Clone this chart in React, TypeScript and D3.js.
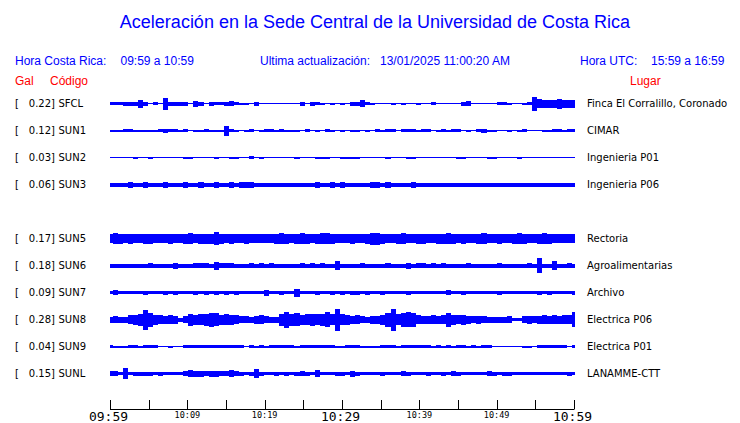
import React from "react";
import * as d3 from "d3";

const W = 740;
const H = 423;

const titleText = "Aceleración en la Sede Central de la Universidad de Costa Rica";
const stationCodes = ["SFCL", "SUN1", "SUN2", "SUN3", "SUN5", "SUN6", "SUN7", "SUN8", "SUN9", "SUNL"];
const stationSlots = [0, 1, 2, 3, 5, 6, 7, 8, 9, 10];
const peakGal = [0.22, 0.12, 0.03, 0.06, 0.17, 0.18, 0.09, 0.28, 0.04, 0.15];
const places = [
  "Finca El Corralillo, Coronado",
  "CIMAR",
  "Ingenieria P01",
  "Ingenieria P06",
  "Rectoria",
  "Agroalimentarias",
  "Archivo",
  "Electrica P06",
  "Electrica P01",
  "LANAMME-CTT",
];

const tickMinutes = [0, 5, 10, 15, 20, 25, 30, 35, 40, 45, 50, 55, 60];
const labelMinutes = [0, 10, 20, 30, 40, 50, 60];
const labelTexts = ["09:59", "10:09", "10:19", "10:29", "10:39", "10:49", "10:59"];
const labelBig = [true, false, false, true, false, false, true];

// envelope amplitude (peak-to-peak counts) sampled along the hour
const envSFCL = [3,3,3,4,4,4,8,4,1,3, 1,12,4,4,4,4,1,6,4,1, 4,3,3,4,5,3,2,2,1,4, 1,1,1,1,1,1,1,1,4,1, 4,3,2,1,2,1,2,1,4,4, 7,3,2,1,1,1,2,1,2,1, 1,2,1,1,3,1,1,1,1,1, 4,5,1,1,1,1,1,3,3,2, 1,1,2,3,14,9,8,8,8,10, 8,8,8];
const envSUN1 = [2,2,2,3,3,2,2,2,2,2, 3,4,3,3,2,3,1,2,2,3, 2,2,2,10,3,2,1,2,3,1, 2,3,3,2,3,2,2,2,1,3, 1,2,1,3,2,1,2,1,2,2, 1,2,1,3,2,3,3,1,3,3, 3,2,3,3,1,2,3,2,3,3, 1,2,1,3,4,2,2,1,1,2, 1,2,3,1,1,1,2,2,3,3, 2,3,3];
const envSUN2 = [1,1,1,1,1,2,1,1,2,1, 1,1,1,1,1,2,2,1,1,1, 1,2,1,1,2,2,1,1,3,1, 2,1,1,1,1,1,1,2,1,1, 1,2,2,2,1,1,2,2,2,2, 1,1,1,1,1,2,1,1,1,2, 2,1,1,1,1,1,1,1,1,2, 2,1,1,1,1,2,2,1,1,1, 1,2,1,1,1,1,1,1,1,1, 1,1,1];
const envSUN3 = [4,4,4,4,6,4,4,6,4,4, 4,6,4,4,4,6,4,4,6,4, 4,6,4,4,6,4,6,6,6,4, 4,4,4,4,4,4,4,4,4,4, 4,6,4,4,6,4,6,4,4,4, 4,4,6,6,4,6,4,4,4,4, 6,4,4,4,4,4,4,4,4,4, 4,4,4,4,4,4,4,4,4,4, 4,4,4,4,4,4,4,4,4,4, 4,4,4];
const envSUN5 = [9,11,10,9,10,9,9,10,10,9, 9,9,10,9,9,10,11,9,10,10, 10,13,10,9,10,9,9,10,9,9, 9,9,9,10,11,10,9,10,11,10, 9,10,11,11,10,9,9,9,10,9, 9,10,12,12,10,9,9,10,11,9, 9,10,10,9,9,10,10,11,10,9, 10,9,9,10,11,9,9,10,9,9, 10,11,10,9,9,10,11,10,9,9, 9,9,9];
const envSUN6 = [4,4,4,4,4,4,4,4,5,4, 4,4,4,6,4,4,4,5,5,5, 4,8,5,5,5,4,4,4,5,4, 5,4,5,4,4,4,4,4,5,4, 5,4,5,4,4,9,4,4,4,4, 5,4,4,4,4,5,4,4,4,6, 4,5,5,4,5,4,5,4,4,4, 4,5,4,4,4,4,4,5,4,4, 4,4,4,5,4,15,4,4,9,4, 4,5,4];
const envSUN7 = [3,5,3,3,3,3,3,4,3,3, 3,4,3,4,3,3,3,4,3,4, 3,4,3,4,3,4,3,3,3,3, 3,6,3,3,4,3,3,8,3,3, 3,4,3,3,4,3,4,3,4,4, 3,4,3,3,4,3,3,3,3,4, 3,3,3,3,3,3,3,5,3,3, 4,3,3,3,3,3,3,4,3,3, 3,3,3,3,3,4,3,4,3,3, 3,3,4];
const envSUN8 = [6,7,6,6,9,10,12,20,14,10, 9,8,9,8,4,7,12,10,11,12, 14,13,10,11,10,9,7,7,6,8, 9,7,6,6,12,16,12,13,10,11, 12,11,12,15,11,22,11,10,8,9, 7,6,8,8,10,14,22,11,14,15, 14,9,8,8,9,8,9,14,10,9, 10,8,7,8,7,6,6,6,6,7, 3,3,7,8,7,8,9,8,9,8, 9,9,15];
const envSUN9 = [3,2,2,2,3,3,2,3,3,3, 1,1,2,1,1,3,3,3,3,3, 3,3,3,3,3,3,3,1,3,2, 3,2,3,3,3,3,3,2,3,3, 3,3,3,3,3,2,2,3,3,3, 2,2,2,2,3,3,3,2,3,3, 3,3,3,3,2,3,2,3,2,3, 3,2,3,2,3,3,1,1,1,1, 1,1,2,2,1,3,3,3,3,3, 3,1,3];
const envSUNL = [5,5,3,11,3,4,4,4,4,3, 4,3,3,3,3,5,7,6,6,5, 6,6,5,5,7,5,4,3,4,9, 4,3,3,4,3,4,3,4,5,4, 3,7,3,3,3,4,4,3,6,4, 3,3,3,3,4,3,3,3,5,4, 3,3,3,4,3,3,4,3,5,4, 3,3,3,3,3,5,4,3,4,4, 3,3,3,3,3,3,3,3,3,3, 3,4,3];

const envelopes = [envSFCL, envSUN1, envSUN2, envSUN3, envSUN5, envSUN6, envSUN7, envSUN8, envSUN9, envSUNL];

const BLUE = "#0000ff";
const RED = "#ff0000";
const SANS = "'Liberation Sans', Arial, Helvetica, sans-serif";
const DEJAVU = "'DejaVu Sans', sans-serif";
const MONO = "'DejaVu Sans Mono', monospace";

export default function App() {
  const x = d3.scaleLinear().domain([0, 60]).range([110, 575]);
  const row = d3.scaleLinear().domain([0, 10]).range([103.5, 373.5]);
  const amp = d3.scaleLinear().domain([0, 1]).range([0, 0.5]);

  const traces = envelopes.map((env, k) => {
    const cy = row(stationSlots[k]);
    const step = 60 / (env.length - 1);
    const pts = env.map((v, i) => ({ t: i * step, v }));
    const area = d3
      .area<{ t: number; v: number }>()
      .x((d) => x(d.t))
      .y0((d) => Math.round(cy - amp(Math.max(1, d.v))))
      .y1((d) => Math.round(cy + amp(Math.max(1, d.v))))
      .curve(d3.curveStep);
    return { cy, path: area(pts) || "" };
  });

  const axisY = 409.5;
  const ax = d3.scaleLinear().domain([0, 60]).range([110, 574]);

  return (
    <svg
      width={W}
      height={H}
      viewBox={`0 0 ${W} ${H}`}
      style={{ position: "absolute", left: 0, top: 0, background: "#fff" }}
    >
      <rect x={0} y={0} width={W} height={H} fill="#fff" />
      <text x={375} y={28} textAnchor="middle" fontFamily={SANS} fontSize={18} fill={BLUE}>
        {titleText}
      </text>

      <g fontFamily={SANS} fontSize={12} fill={BLUE}>
        <text x={15} y={65}>Hora Costa Rica:</text>
        <text x={120.5} y={65}>09:59 a 10:59</text>
        <text x={260} y={65}>Ultima actualización:</text>
        <text x={380} y={65}>13/01/2025 11:00:20 AM</text>
        <text x={580} y={65}>Hora UTC:</text>
        <text x={651} y={65}>15:59 a 16:59</text>
      </g>
      <g fontFamily={SANS} fontSize={12} fill={RED}>
        <text x={15} y={85}>Gal</text>
        <text x={50} y={85}>Código</text>
        <text x={630} y={85}>Lugar</text>
      </g>

      {traces.map((tr, k) => (
        <g key={stationCodes[k]}>
          <path d={tr.path} fill={BLUE} stroke="none" shapeRendering="crispEdges" />
          <g fontFamily={DEJAVU} fontSize={10} fill="#000">
            <text x={15} y={tr.cy + 3.8}>[</text>
            <text x={55} y={tr.cy + 3.8} textAnchor="end">
              {peakGal[k].toFixed(2) + "]"}
            </text>
            <text x={58.5} y={tr.cy + 3.8}>{stationCodes[k]}</text>
            <text x={587} y={tr.cy + 3.8}>{places[k]}</text>
          </g>
        </g>
      ))}

      <g>
        <line x1={ax(0)} x2={ax(60)} y1={axisY} y2={axisY} stroke="#000" strokeWidth={1} />
        {tickMinutes.map((m) => (
          <line
            key={m}
            x1={Math.round(ax(m)) + 0.5}
            x2={Math.round(ax(m)) + 0.5}
            y1={axisY}
            y2={400}
            stroke="#000"
            strokeWidth={1}
          />
        ))}
        {labelMinutes.map((m, i) => (
          <text
            key={m}
            x={ax(m) - (labelBig[i] ? 1.5 : 0)}
            y={labelBig[i] ? 421 : 417.5}
            textAnchor="middle"
            fontFamily={MONO}
            fontSize={labelBig[i] ? 13 : 8.5}
            fill="#000"
          >
            {labelTexts[i]}
          </text>
        ))}
      </g>
    </svg>
  );
}
